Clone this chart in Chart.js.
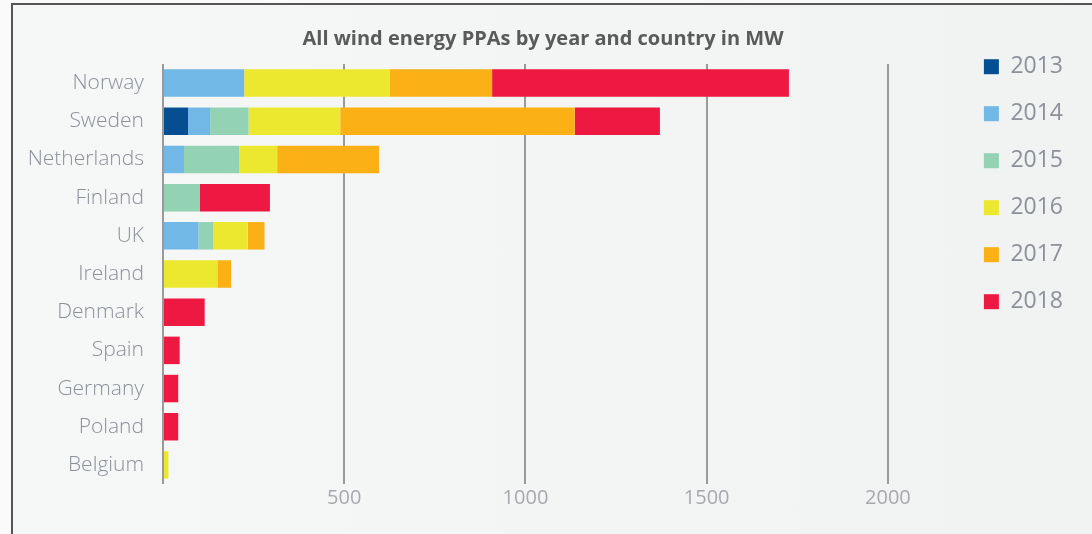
<!DOCTYPE html>
<html>
<head>
<meta charset="utf-8">
<script src="https://cdn.jsdelivr.net/npm/chart.js@4"></script>
<style>
  html, body { margin: 0; padding: 0; background: #fafafa; overflow: hidden; }
  #frame {
    position: absolute; left: 11px; top: 3px;
    width: 1200px; height: 600px;
    border: 2px solid #555;
    background: linear-gradient(to right, #f6f7f7, #f0f1f1);
  }
  #wrap { position: absolute; left: 0; top: 0; width: 1068px; height: 529px; }
</style>
</head>
<body>
<div id="frame"><div id="wrap"><canvas id="chart"></canvas></div></div>
<script>
// countries (top to bottom)
const countries = ['Norway', 'Sweden', 'Netherlands', 'Finland', 'UK', 'Ireland',
                   'Denmark', 'Spain', 'Germany', 'Poland', 'Belgium'];
const years = ['2013', '2014', '2015', '2016', '2017', '2018'];

// MW per year
const mw2013 = [0, 69, 0, 0, 0, 0, 0, 0, 0, 0, 0];
const mw2014 = [224, 61, 58, 0, 98, 0, 0, 0, 0, 0, 0];
const mw2015 = [0, 106, 152, 102, 41, 0, 0, 0, 0, 0, 0];
const mw2016 = [402, 253, 105, 0, 95, 150, 0, 0, 0, 0, 15];
const mw2017 = [282, 647, 281, 0, 46, 38, 0, 0, 0, 0, 0];
const mw2018 = [819, 235, 0, 193, 0, 0, 115, 46, 42, 42, 0];

const xTicks = [500, 1000, 1500, 2000];

const colors = ['#064e92', '#72b8e6', '#93d2b2', '#ece82f', '#fbb016', '#ee1943'];
const series = [mw2013, mw2014, mw2015, mw2016, mw2017, mw2018];

const font = "'Open Sans', sans-serif";

new Chart(document.getElementById('chart'), {
    type: 'bar',
    data: {
        labels: countries,
        datasets: series.map((vals, i) => ({
            label: years[i],
            data: vals,
            backgroundColor: colors[i],
            borderWidth: 0,
            categoryPercentage: 0.72,
            barPercentage: 1
        }))
    },
    options: {
        indexAxis: 'y',
        responsive: true,
        maintainAspectRatio: false,
        animation: false,
        layout: { padding: { top: 22, right: 8, bottom: 22, left: 0 } },
        plugins: {
            title: {
                display: true,
                text: 'All wind energy PPAs by year and country in MW',
                color: '#5a5a5a',
                font: { family: font, size: 20, weight: 'bold' },
                padding: { top: 0, bottom: 13 }
            },
            legend: {
                position: 'right',
                align: 'start',
                title: { display: true, text: ' ', font: { size: 1 }, padding: { top: 0, bottom: 3 } },
                labels: {
                    boxWidth: 15,
                    boxHeight: 15,
                    padding: 24,
                    color: '#8c9099',
                    font: { family: font, size: 23 }
                }
            },
            tooltip: { enabled: false }
        },
        scales: {
            x: {
                stacked: true,
                min: 0,
                max: 2000,
                afterBuildTicks: axis => { axis.ticks = [0].concat(xTicks).map(v => ({ value: v })); },
                border: { display: false },
                grid: {
                    color: '#9a9a9a',
                    lineWidth: 2,
                    drawTicks: false
                },
                ticks: {
                    padding: 2,
                    color: '#a6a9ae',
                    font: { family: font, size: 20 },
                    callback: v => v === 0 ? '' : v
                }
            },
            y: {
                stacked: true,
                border: { display: false },
                grid: { display: false, drawTicks: false },
                afterFit: axis => { axis.width = 150; },
                ticks: {
                    padding: 19,
                    color: '#8c9099',
                    font: { family: font, size: 21, weight: 300 }
                }
            },
            // empty spacer between plot and legend
            gap: {
                type: 'category',
                axis: 'y',
                position: 'right',
                labels: countries,
                grid: { display: false, drawTicks: false },
                border: { display: false },
                ticks: { display: false },
                afterFit: axis => { axis.width = 72; }
            }
        }
    }
});
</script>
</body>
</html>
